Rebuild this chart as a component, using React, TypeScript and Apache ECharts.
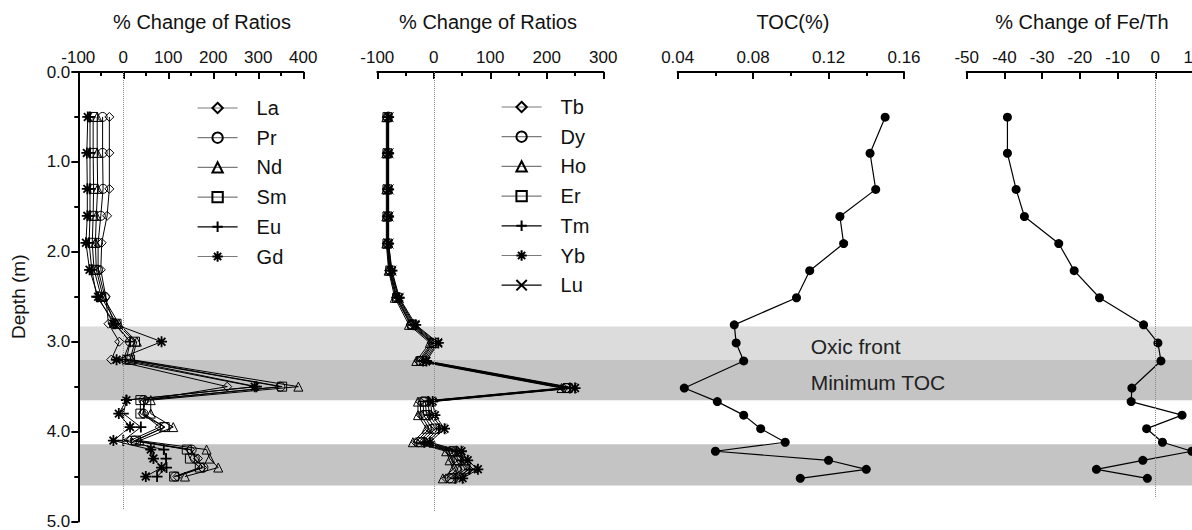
import React, { useEffect, useRef } from 'react';
import * as echarts from 'echarts';

// Sample depths (m)
const depths = [0.5, 0.9, 1.3, 1.6, 1.9, 2.2, 2.5, 2.8, 3.0, 3.2, 3.5, 3.65, 3.8, 3.95, 4.1, 4.2, 4.3, 4.4, 4.5];

// Panel 1: % change of ratios (light REE)
const La = [-31, -31, -31, -36, -48, -50, -39, -33, -9, -27, 231, 50, 43, 81, 15, 148, 166, 175, 120];
const Pr = [-46, -46, -45, -50, -56, -56, -41, -20, 15, 7, 349, 45, 45, 92, 25, 152, 159, 178, 115];
const Nd = [-58, -58, -57, -60, -62, -60, -45, -10, 30, 19, 389, 61, 61, 111, 36, 185, 192, 211, 137];
const Sm = [-67, -67, -66, -67, -69, -65, -49, -15, 26, 15, 353, 38, 38, 92, 28, 141, 148, 170, 113];
const Eu = [-74, -74, -74, -74, -76, -70, -59, -18, 15, 0, 296, 7, 0, 39, 0, 90, 95, 96, 75];
const Gd = [-79, -81, -80, -80, -83, -75, -56, -22, 85, -15, 292, 7, -10, 15, -22, 61, 67, 85, 50];

// Panel 2: % change of ratios (heavy REE)
const Tb = [-83, -83, -83, -83, -83, -79, -67, -41, -4, -27, 230, -24, -23, -8, -32, 27, 34, 42, 22];
const Dy = [-82, -82, -82, -82, -82, -78, -66, -40, -2, -24, 234, -19, -18, -3, -27, 31, 40, 50, 28];
const Ho = [-84, -84, -84, -84, -84, -80, -69, -44, -7, -31, 226, -28, -28, -13, -37, 22, 28, 34, 16];
const Er = [-82, -82, -82, -82, -82, -77, -65, -38, 0, -22, 237, -15, -13, 3, -22, 35, 44, 56, 33];
const Tm = [-81, -81, -81, -81, -81, -76, -63, -36, 3, -19, 241, -10, -8, 9, -17, 40, 49, 63, 38];
const Yb = [-80, -80, -80, -80, -80, -74, -61, -32, 8, -13, 250, -2, 2, 19, -7, 49, 60, 78, 51];
const Lu = [-80, -80, -80, -80, -80, -75, -62, -34, 6, -16, 245, -6, -3, 14, -12, 44, 54, 70, 45];

// Panel 3: TOC (%)
const TOC = [0.150, 0.142, 0.145, 0.126, 0.128, 0.110, 0.103, 0.070, 0.071, 0.075, 0.0435, 0.061, 0.075, 0.084, 0.097, 0.060, 0.120, 0.140, 0.105];

// Panel 4: % change of Fe/Th
const FeTh = [-39.2, -39.2, -36.9, -34.7, -25.6, -21.5, -14.8, -3.1, 0.7, 1.5, -6.2, -6.4, 7.1, -2.3, 1.9, 9.7, -3.3, -15.6, -2.1];

// Depth bands [top, bottom]
const oxicBand = [2.83, 3.2];
const minTocBand = [3.2, 3.65];
const lowerBand = [4.14, 4.6];
const bandLabels = ['Oxic front', 'Minimum TOC'];

const panelTitles = ['% Change of Ratios', '% Change of Ratios', 'TOC(%)', '% Change of Fe/Th'];
const lightNames = ['La', 'Pr', 'Nd', 'Sm', 'Eu', 'Gd'];
const heavyNames = ['Tb', 'Dy', 'Ho', 'Er', 'Tm', 'Yb', 'Lu'];

const FONT = 'Liberation Sans, Arial, Helvetica, sans-serif';
const darkLegendLines = ['Eu', 'Tm', 'Lu'];

const SYM = {
  diamond: 'path://M5,0L10,5L5,10L0,5Z',
  circle: 'path://M10,5A5,5,0,1,1,0,5A5,5,0,1,1,10,5Z',
  triangle: 'path://M5,0L10,9L0,9Z',
  rect: 'path://M0,0L10,0L10,10L0,10Z',
  plus: 'path://M0,5L10,5M5,0L5,10',
  star: 'path://M0,5L10,5M5,0L5,10M1.5,1.5L8.5,8.5M8.5,1.5L1.5,8.5',
  cross: 'path://M0,0L10,10M10,0L0,10',
};

function pairs(vals: number[]) {
  return depths.map((d, i) => [vals[i], d]);
}

function reeSeries(name: string, vals: number[], symbol: string, idx: number, bold: boolean, size: number, markLine?: any) {
  const s: any = {
    name,
    type: 'line',
    xAxisIndex: idx,
    yAxisIndex: idx,
    data: pairs(vals),
    symbol,
    symbolSize: size,
    showAllSymbol: true,
    lineStyle: { color: '#000', width: 1 },
    itemStyle: { color: 'rgba(0,0,0,0)', borderColor: '#000', borderWidth: bold ? 1.8 : 1 },
    emphasis: { disabled: true },
    z: 3,
  };
  if (markLine) s.markLine = markLine;
  return s;
}

function zeroLine(bottom: number) {
  return {
    silent: true,
    symbol: ['none', 'none'],
    label: { show: false },
    lineStyle: { type: 'dotted', color: '#8a8a8a', width: 1 },
    data: [[{ coord: [0, 0] }, { coord: [0, bottom] }]],
  };
}

const gridTop = 72;
const gridHeight = 451.5;
const grids = [
  { left: 78.3, width: 225 },
  { left: 377.3, width: 226 },
  { left: 677.7, width: 226.3 },
  { left: 966.7, width: 226.3 },
];

function xAxis(idx: number, min: number, max: number, interval: number, minor: boolean, fmt?: (v: number) => string) {
  return {
    gridIndex: idx,
    type: 'value',
    position: 'top',
    min,
    max,
    interval,
    axisLine: { show: true, onZero: false, lineStyle: { color: '#000', width: 2 } },
    axisTick: { show: true, inside: true, length: 7, lineStyle: { color: '#000', width: 2 } },
    minorTick: { show: minor, splitNumber: 2, length: 4, lineStyle: { color: '#000', width: 2 } },
    splitLine: { show: false },
    minorSplitLine: { show: false },
    axisLabel: {
      show: true,
      fontSize: 17,
      fontFamily: FONT,
      color: '#111',
      margin: 6,
      formatter: fmt,
    },
  };
}

function yAxis(idx: number) {
  const shown = idx === 0;
  return {
    gridIndex: idx,
    type: 'value',
    inverse: true,
    min: 0,
    max: 5,
    interval: 1,
    show: shown,
    name: shown ? 'Depth (m)' : '',
    nameLocation: 'middle',
    nameGap: 50,
    nameTextStyle: { fontSize: 19, fontFamily: FONT, color: '#111' },
    axisLine: { show: shown, onZero: false, lineStyle: { color: '#000', width: 2 } },
    axisTick: { show: shown, inside: false, length: 7, lineStyle: { color: '#000', width: 2 } },
    minorTick: { show: shown, splitNumber: 2, length: 4, lineStyle: { color: '#000', width: 2 } },
    splitLine: { show: false },
    axisLabel: {
      show: shown,
      fontSize: 17,
      fontFamily: FONT,
      color: '#111',
      margin: 8,
      formatter: (v: number) => v.toFixed(1),
    },
  };
}

function legend(names: string[], left: number, top: number) {
  return {
    orient: 'vertical',
    left,
    top,
    padding: 0,
    data: names.map((n) => ({
      name: n,
      lineStyle: { color: darkLegendLines.indexOf(n) >= 0 ? '#000' : '#7a7a7a', width: 1.2 },
    })),
    itemWidth: 40,
    itemHeight: 13,
    itemGap: 9.7,
    selectedMode: false,
    textStyle: { fontSize: 20, lineHeight: 20, fontFamily: FONT, color: '#111', padding: [0, 0, 0, 14] },
  };
}

export default function App() {
  const ref = useRef<HTMLDivElement>(null);
  useEffect(() => {
    if (!ref.current) return;
    const chart = echarts.init(ref.current, null, { renderer: 'svg' });
    const series: any[] = [
      reeSeries('La', La, SYM.diamond, 0, false, 9, zeroLine(4.87)),
      reeSeries('Pr', Pr, SYM.circle, 0, false, 9),
      reeSeries('Nd', Nd, SYM.triangle, 0, false, 9),
      reeSeries('Sm', Sm, SYM.rect, 0, false, 9),
      reeSeries('Eu', Eu, SYM.plus, 0, true, 11),
      reeSeries('Gd', Gd, SYM.star, 0, true, 11),
      reeSeries('Tb', Tb, SYM.diamond, 1, false, 9, zeroLine(4.87)),
      reeSeries('Dy', Dy, SYM.circle, 1, false, 9),
      reeSeries('Ho', Ho, SYM.triangle, 1, false, 9),
      reeSeries('Er', Er, SYM.rect, 1, false, 9),
      reeSeries('Tm', Tm, SYM.plus, 1, true, 11),
      reeSeries('Yb', Yb, SYM.star, 1, true, 11),
      reeSeries('Lu', Lu, SYM.cross, 1, false, 10),
      {
        name: 'TOC',
        type: 'line',
        xAxisIndex: 2,
        yAxisIndex: 2,
        data: pairs(TOC),
        symbol: 'circle',
        symbolSize: 9,
        showAllSymbol: true,
        lineStyle: { color: '#000', width: 1.2 },
        itemStyle: { color: '#000' },
        emphasis: { disabled: true },
        z: 3,
      },
      {
        name: 'Fe/Th',
        type: 'line',
        xAxisIndex: 3,
        yAxisIndex: 3,
        data: pairs(FeTh),
        symbol: 'circle',
        symbolSize: 9,
        showAllSymbol: true,
        clip: false,
        lineStyle: { color: '#000', width: 1.2 },
        itemStyle: { color: '#000' },
        emphasis: { disabled: true },
        markLine: zeroLine(4.72),
        z: 3,
      },
    ];

    const option: any = {
      animation: false,
      backgroundColor: '#fff',
      textStyle: { fontFamily: FONT },
      grid: grids.map((g) => ({ left: g.left, width: g.width, top: gridTop, height: gridHeight, containLabel: false })),
      xAxis: [
        xAxis(0, -100, 400, 100, true),
        xAxis(1, -100, 300, 100, true),
        xAxis(2, 0.04, 0.16, 0.04, true, (v: number) => v.toFixed(2)),
        xAxis(3, -50, 10, 10, false),
      ],
      yAxis: [yAxis(0), yAxis(1), yAxis(2), yAxis(3)],
      legend: [legend(lightNames, 197, 98), legend(heavyNames, 501, 97)],
      series,
    };
    chart.setOption(option);

    // Depth bands spanning all panels, placed through the depth axis scale
    const yPx = (d: number) => chart.convertToPixel({ yAxisIndex: 0 }, d) as number;
    const xStart = chart.convertToPixel({ xAxisIndex: 0 }, -100) as number;
    const xEnd = 1240;
    const bandRect = (b: number[], color: string) => ({
      type: 'rect',
      z: -10,
      silent: true,
      shape: { x: xStart + 1, y: yPx(b[0]), width: xEnd - xStart, height: yPx(b[1]) - yPx(b[0]) },
      style: { fill: color },
    });
    const labelX = chart.convertToPixel({ xAxisIndex: 2 }, 0.1105) as number;
    const graphics: any[] = [
      bandRect(oxicBand, '#dcdcdc'),
      bandRect(minTocBand, '#c4c4c4'),
      bandRect(lowerBand, '#c4c4c4'),
      {
        type: 'text',
        z: 5,
        silent: true,
        x: labelX,
        y: yPx((oxicBand[0] + oxicBand[1]) / 2) + 3,
        style: { text: bandLabels[0], fontSize: 21, fontFamily: FONT, fill: '#222', textAlign: 'left', textVerticalAlign: 'middle' },
      },
      {
        type: 'text',
        z: 5,
        silent: true,
        x: labelX,
        y: yPx((minTocBand[0] + minTocBand[1]) / 2) + 3,
        style: { text: bandLabels[1], fontSize: 21, fontFamily: FONT, fill: '#222', textAlign: 'left', textVerticalAlign: 'middle' },
      },
    ];
    const titleCenters = [202, 488, 793, 1082];
    panelTitles.forEach((t, i) => {
      graphics.push({
        type: 'text',
        silent: true,
        x: titleCenters[i],
        y: 22,
        style: { text: t, fontSize: 20, fontFamily: FONT, fill: '#111', textAlign: 'center', textVerticalAlign: 'middle' },
      });
    });
    chart.setOption({ graphic: graphics });

    return () => chart.dispose();
  }, []);
  return (
    <div
      ref={ref}
      style={{ position: 'fixed', left: 0, top: 0, width: 1240, height: 530, background: '#fff' }}
    />
  );
}
